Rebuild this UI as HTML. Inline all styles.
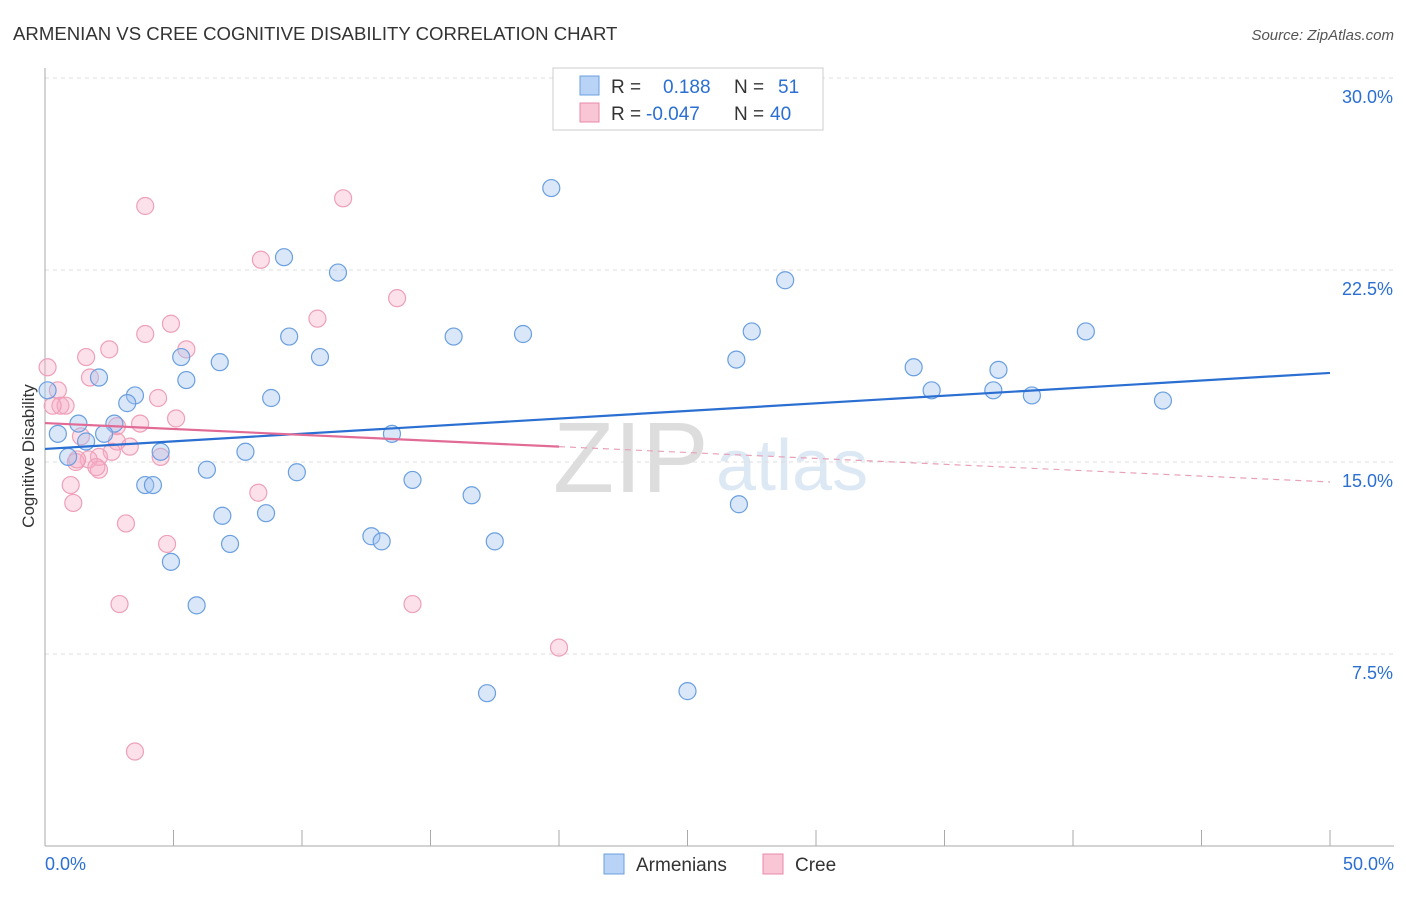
<!DOCTYPE html>
<html><head><meta charset="utf-8"><style>
body{margin:0;background:#fff;font-family:"Liberation Sans",sans-serif;}
svg text{font-family:"Liberation Sans",sans-serif;}
</style></head><body>
<svg id="chart" width="1406" height="892">
<text x="13" y="40" font-size="18.6" fill="#333">ARMENIAN VS CREE COGNITIVE DISABILITY CORRELATION CHART</text>
<text x="1394" y="40" font-size="15" fill="#555" text-anchor="end" font-style="italic">Source: ZipAtlas.com</text>
<text x="553" y="492" font-size="100" fill="#ddd" font-family="Liberation Serif">ZIP</text>
<text x="716" y="490" font-size="72" fill="#dde8f5">atlas</text>
<g id="grid"></g><g id="axes"></g><g id="marks"></g>
<text transform="translate(34,456) rotate(-90)" font-size="17" fill="#333" text-anchor="middle">Cognitive Disability</text>
<g>
<rect x="553" y="68" width="270" height="62" fill="#fff" stroke="#ccc"/>
<rect x="580" y="76" width="19" height="19" fill="#b8d3f5" stroke="#6a9fdf"/>
<rect x="580" y="103" width="19" height="19" fill="#f9c6d6" stroke="#e88aa8"/>
<text y="93" font-size="19" fill="#333"><tspan x="611">R =</tspan><tspan x="663" fill="#2a6fd1">0.188</tspan><tspan x="734">N =</tspan><tspan x="778" fill="#2a6fd1">51</tspan></text>
<text y="120" font-size="19" fill="#333"><tspan x="611">R =</tspan><tspan x="646" fill="#2a6fd1">-0.047</tspan><tspan x="734">N =</tspan><tspan x="770" fill="#2a6fd1">40</tspan></text>
</g>
<g>
<rect x="604" y="854" width="20" height="20" fill="#b8d3f5" stroke="#6a9fdf"/>
<text x="636" y="871" font-size="19" fill="#333">Armenians</text>
<rect x="763" y="854" width="20" height="20" fill="#f9c6d6" stroke="#e88aa8"/>
<text x="795" y="871" font-size="19" fill="#333">Cree</text>
</g>
</svg>
<script>
const yTicks=[7.5,15,22.5,30];
const yTickLabels=["7.5%","15.0%","22.5%","30.0%"];
const xLabels=["0.0%","50.0%"];
const armX=[19.7,9.3,11.4,28.8,9.5,15.9,18.6,27.5,40.5,5.3,10.7,6.8,26.9,33.8,37.1,2.1,5.5,34.5,36.9,38.4,43.5,3.5,3.2,8.8,0.1,1.3,2.7,13.5,0.5,2.3,1.6,4.5,7.8,0.9,6.3,9.8,14.3,3.9,4.2,16.6,27.0,6.9,8.6,12.7,13.1,17.5,7.2,4.9,5.9,17.2,25.0];
const armY=[25.7,23.0,22.4,22.1,19.9,19.9,20.0,20.1,20.1,19.1,19.1,18.9,19.0,18.7,18.6,18.3,18.2,17.8,17.8,17.6,17.4,17.6,17.3,17.5,17.8,16.5,16.5,16.1,16.1,16.1,15.8,15.4,15.4,15.2,14.7,14.6,14.3,14.1,14.1,13.7,13.35,12.9,13.0,12.1,11.9,11.9,11.8,11.1,9.4,5.97,6.05];
const creeX=[0.1,0.5,0.6,0.8,0.3,1.6,2.5,3.9,4.9,5.5,3.9,11.6,8.4,13.7,10.6,1.75,4.4,5.1,3.7,2.8,1.4,2.8,3.3,2.6,2.1,1.7,1.2,4.5,2.1,2.0,1.0,1.1,3.15,4.75,8.3,2.9,14.3,20.0,3.5,1.25];
const creeY=[18.7,17.8,17.2,17.2,17.2,19.1,19.4,20.0,20.4,19.4,25.0,25.3,22.9,21.4,20.6,18.3,17.5,16.7,16.5,16.4,16.0,15.8,15.6,15.4,15.2,15.1,15.0,15.2,14.7,14.8,14.1,13.4,12.6,11.8,13.8,9.45,9.45,7.75,3.69,15.1];
const armTrend=[15.51,18.48];
const creeTrend=[16.52,14.22];
const creeSolidEnd=20;
const X=v=>45+v/50*1285, Y=v=>846-v/7.5*192;
const NS="http://www.w3.org/2000/svg";
function mk(t,a,p){const e=document.createElementNS(NS,t);for(const k in a)e.setAttribute(k,a[k]);p.appendChild(e);return e;}
const grid=document.getElementById('grid'),axes=document.getElementById('axes'),marks=document.getElementById('marks');
yTicks.forEach((t,i)=>{
 const l=mk('line',{x1:45,x2:1394,y1:Y(t),y2:Y(t),stroke:'#ddd','stroke-dasharray':'4,4'},grid);
 
 
 const tx=mk('text',{x:1393,y:Y(t)+25,'font-size':18,fill:'#2a6fd1','text-anchor':'end'},axes);
 tx.textContent=yTickLabels[i];
 
 
});
const ax=mk('line',{x1:45,x2:45,y1:68,y2:846,stroke:'#aaa'},axes);


const bx=mk('line',{x1:45,x2:1394,y1:846,y2:846,stroke:'#aaa'},axes);


for(let i=0;i<=10;i++){const t=mk('line',{x1:X(i*5),x2:X(i*5),y1:830,y2:846,stroke:'#aaa'},axes);
 
 }
[[0,'start',45],[50,'end',1394]].forEach((d,i)=>{const t=mk('text',{x:d[2],y:870,'font-size':18,fill:'#2a6fd1','text-anchor':d[1]},axes);t.textContent=xLabels[i];
 
 });
creeX.forEach((x,i)=>{const c=mk('circle',{cx:X(x),cy:Y(creeY[i]),r:8.5,fill:'rgba(246,170,195,0.35)',stroke:'#eea0b8','stroke-width':1.2},marks);
 
 });
armX.forEach((x,i)=>{const c=mk('circle',{cx:X(x),cy:Y(armY[i]),r:8.5,fill:'rgba(160,195,240,0.4)',stroke:'#6a9fdf','stroke-width':1.2},marks);
 
 });
const a=mk('line',{x1:X(0),y1:Y(armTrend[0]),x2:X(50),y2:Y(armTrend[1]),stroke:'#2a6fd1','stroke-width':2.2},marks);


const cm=creeTrend[0]+(creeTrend[1]-creeTrend[0])*creeSolidEnd/50;
const c1=mk('line',{x1:X(0),y1:Y(creeTrend[0]),x2:X(creeSolidEnd),y2:Y(cm),stroke:'#e26b96','stroke-width':2.2},marks);


const c2=mk('line',{x1:X(creeSolidEnd),y1:Y(cm),x2:X(50),y2:Y(creeTrend[1]),stroke:'#e8a0b8','stroke-width':1.2,'stroke-dasharray':'6,5'},marks);


</script>
</body></html>
